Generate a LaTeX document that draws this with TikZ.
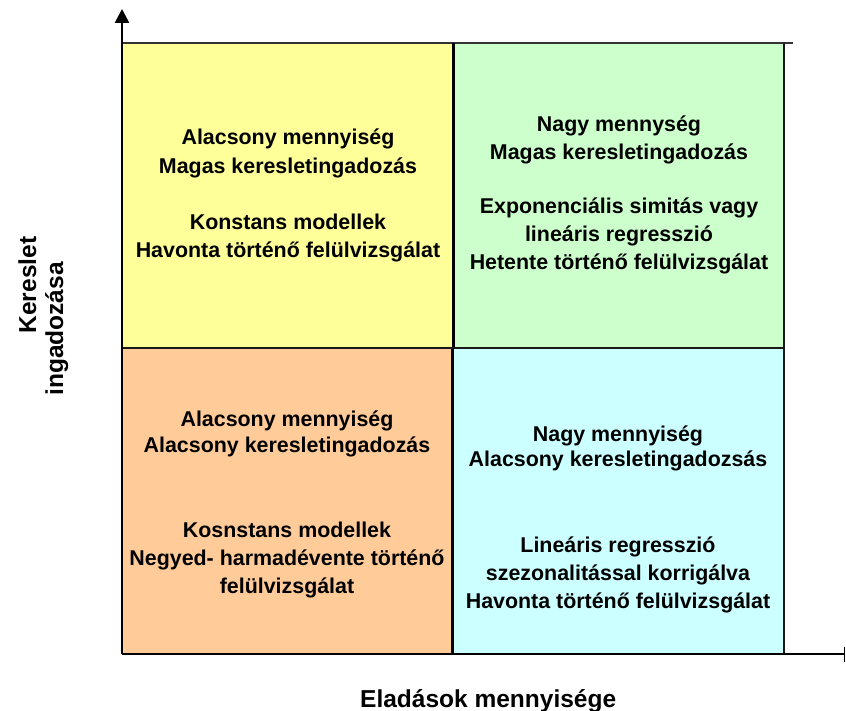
\documentclass[tikz,border=0pt]{standalone}
\usepackage{fontspec}
\setmainfont{Liberation Sans}
\usetikzlibrary{arrows.meta}
\definecolor{qyellow}{HTML}{FFFF99}
\definecolor{qgreen}{HTML}{CCFFCC}
\definecolor{qorange}{HTML}{FFCC99}
\definecolor{qcyan}{HTML}{CCFFFF}
\begin{document}
\begin{tikzpicture}[x=1bp,y=-1bp,
  qtext/.style={font=\fontsize{21.4bp}{28bp}\selectfont\bfseries, anchor=base, inner sep=0pt},
  axtext/.style={font=\fontsize{24.5bp}{30bp}\selectfont\bfseries, anchor=base, inner sep=0pt},
  gridline/.style={draw=black!90, line width=2.2bp},
  midline/.style={draw=black, line width=3bp}]
\useasboundingbox (0,0) rectangle (846,711);
% coordinates
\coordinate (O) at (122,654);
\coordinate (Ytip) at (122,9);
\coordinate (Xend) at (845,654);
\coordinate (TL) at (122,43);
\coordinate (TR) at (793,43);
\coordinate (RT) at (784,43);
\coordinate (RB) at (784,654);
\coordinate (MT) at (453,43);
\coordinate (MM) at (453,348);
\coordinate (MMb) at (452,348);
\coordinate (MB) at (452,654);
\coordinate (HL) at (122,348);
\coordinate (HR) at (784,348);
% quadrants
\fill[qyellow] (122,43) rectangle (453,348);
\fill[qgreen] (453,43) rectangle (784,348);
\fill[qorange] (122,348) rectangle (452,654);
\fill[qcyan] (452,348) rectangle (784,654);
% lines
\draw[draw=black!80, line width=1.5bp] (TL) -- (TR);
\draw[gridline] (RT) -- (RB);
\draw[midline] (MT) -- (MM);
\draw[midline] (MMb) -- (MB);
\draw[gridline] (HL) -- (HR);
\draw[line width=2.2bp, -{Bar[width=15bp,line width=1.5bp]}] (O) -- (Xend);
\draw[line width=2.6bp, -{Triangle[width=14bp,length=14bp]}] (O) -- (Ytip);
% yellow quadrant
\node[qtext] (y1) at (288,145) {Alacsony mennyiség};
\node[qtext] (y2) at (288,173) {Magas keresletingadozás};
\node[qtext] (y3) at (288,229) {Konstans modellek};
\node[qtext] (y4) at (288,257) {Havonta történő felülvizsgálat};
% green quadrant
\node[qtext] (g1) at (619,132) {Nagy mennység};
\node[qtext] (g2) at (619,160) {Magas keresletingadozás};
\node[qtext] (g3) at (619,213) {Exponenciális simitás vagy};
\node[qtext] (g4) at (619,241) {lineáris regresszió};
\node[qtext] (g5) at (619,269) {Hetente történő felülvizsgálat};
% orange quadrant
\node[qtext] (o1) at (287,426) {Alacsony mennyiség};
\node[qtext] (o2) at (287,452) {Alacsony keresletingadozás};
\node[qtext] (o3) at (287,537) {Kosnstans modellek};
\node[qtext] (o4) at (287,565) {Negyed- harmadévente történő};
\node[qtext] (o5) at (287,593) {felülvizsgálat};
% cyan quadrant
\node[qtext] (c1) at (618,441) {Nagy mennyiség};
\node[qtext] (c2) at (618,466) {Alacsony keresletingadozsás};
\node[qtext] (c3) at (618,552) {Lineáris regresszió};
\node[qtext] (c4) at (618,580) {szezonalitással korrigálva};
\node[qtext] (c5) at (618,608) {Havonta történő felülvizsgálat};
% axis labels
\node[axtext, rotate=90] (yl1) at (36,285) {Kereslet};
\node[axtext, rotate=90] (yl2) at (63,329) {ingadozása};
\node[axtext, anchor=base west] (xl) at (360,707) {Eladások mennyisége};
\end{tikzpicture}
\end{document}
